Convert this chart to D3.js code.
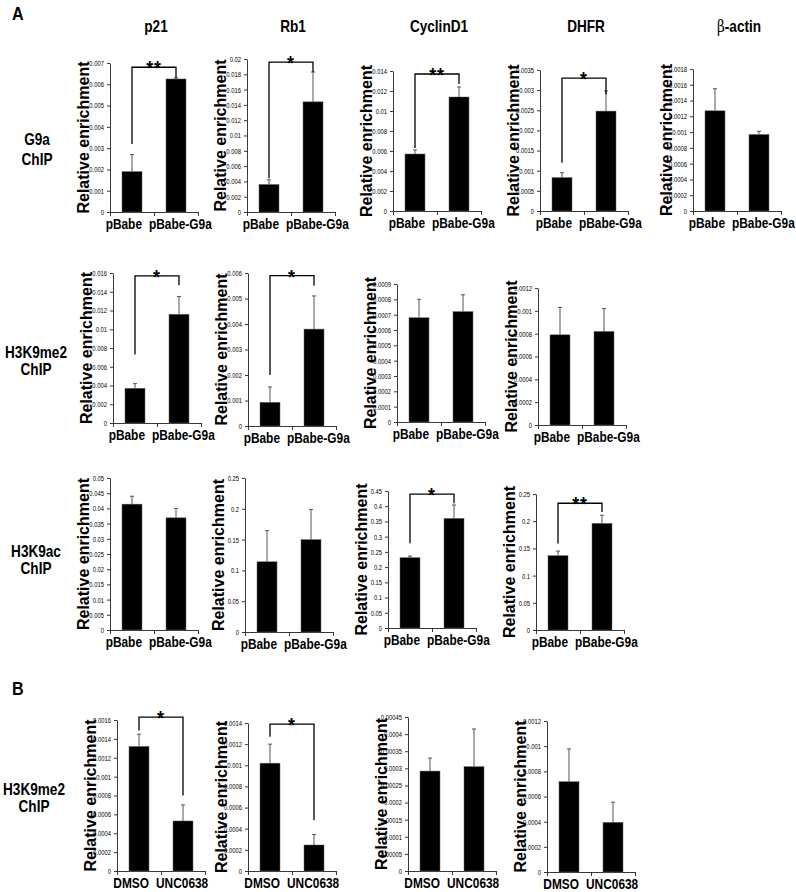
<!DOCTYPE html>
<html><head><meta charset="utf-8">
<script src="https://cdn.jsdelivr.net/npm/d3@7"></script>
<style>body{margin:0;background:#fff} svg{display:block} text{font-family:"Liberation Sans",Arial,sans-serif;}</style>
</head><body><svg id="c" width="796" height="892"></svg>
<script>
// ---------------- DATA ----------------
const genes = ["p21", "Rb1", "CyclinD1", "DHFR", "β-actin"];
const groupsA = ["pBabe", "pBabe-G9a"];
const groupsB = ["DMSO", "UNC0638"];
const rowTitles = [["G9a", "ChIP"], ["H3K9me2", "ChIP"], ["H3K9ac", "ChIP"], ["H3K9me2", "ChIP"]];

// A, row 1: G9a ChIP
const g9aMeans  = [[0.0019, 0.00625], [0.0036, 0.0144], [0.0057, 0.0114], [0.00083, 0.00248], [0.00127, 0.00097]];
const g9aErrors = [[0.0008, 0.00005], [0.0006, 0.0039], [0.0004, 0.0010], [0.00012, 0.0005], [0.00028, 0.00004]];
const g9aAxisMax  = [0.007, 0.02, 0.014, 0.0035, 0.0018];
const g9aAxisStep = [0.001, 0.002, 0.002, 0.0005, 0.0002];
const g9aSig = [
  {label: "**", from: 0.0032, level: 0.0068, to: 0.0063},
  {label: "*",  from: 0.0044, level: 0.0196, to: 0.0183},
  {label: "**", from: 0.0063, level: 0.0137, to: 0.0127},
  {label: "*",  from: 0.0012, level: 0.0033, to: 0.0029},
  null];

// A, row 2: H3K9me2 ChIP
const me2Means  = [[0.0037, 0.0116], [0.00093, 0.0038], [0.00068, 0.00072], [0.00079, 0.00082]];
const me2Errors = [[0.0005, 0.0019], [0.0006, 0.0013], [0.00012, 0.00011], [0.00024, 0.0002]];
const me2AxisMax  = [0.016, 0.006, 0.0009, 0.0012];
const me2AxisStep = [0.002, 0.001, 0.0001, 0.0002];
const me2Sig = [
  {label: "*", from: 0.0073, level: 0.0157, to: 0.0147},
  {label: "*", from: 0.0020, level: 0.0059, to: 0.0055},
  null, null];

// A, row 3: H3K9ac ChIP
const acMeans  = [[0.0414, 0.0369], [0.114, 0.150], [0.231, 0.360], [0.1366, 0.196]];
const acErrors = [[0.0026, 0.0031], [0.0505, 0.049], [0.005, 0.044], [0.0084, 0.015]];
const acAxisMax  = [0.05, 0.25, 0.45, 0.25];
const acAxisStep = [0.005, 0.05, 0.05, 0.05];
const acSig = [null, null,
  {label: "*",  from: 0.278, level: 0.44, to: 0.41},
  {label: "**", from: 0.159, level: 0.233, to: 0.217}];

// B: H3K9me2 ChIP, DMSO vs UNC0638
const uncMeans  = [[0.00132, 0.00053], [0.00102, 0.000246], [0.000292, 0.000305], [0.000718, 0.000395]];
const uncErrors = [[0.00013, 0.00017], [0.00018, 0.0001], [0.000038, 0.00011], [0.00026, 0.00016]];
const uncAxisMax  = [0.0016, 0.0014, 0.00045, 0.0012];
const uncAxisStep = [0.0002, 0.0002, 0.00005, 0.0002];
const uncSig = [
  {label: "*", from: 0.00149, level: 0.00163, to: 0.0008},
  {label: "*", from: 0.00127, level: 0.00139, to: 0.00048},
  null, null];

// ---------------- LAYOUT ----------------
const layout = [
  {axisX: [110, 247, 393, 540, 693], top: [63, 59, 71, 70, 69], zero: [212, 212, 211, 211, 211], title: [37, 145, 165]},
  {axisX: [113, 248, 397, 538], top: [273, 273, 284, 288], zero: [423, 426, 422, 425], title: [36, 358, 375]},
  {axisX: [110, 245, 388, 536], top: [478, 478, 491, 494], zero: [630, 632, 628, 630], title: [36, 557, 574]},
  {axisX: [117, 248, 408, 547], top: [720, 723, 717, 721], zero: [871, 871, 871, 872], title: [34, 795, 812]}
];
const PW = 88, BAR_W = 20, SX = 0.85;

const svg = d3.select("#c");

function hText(g, x, y, str, size, anchor, weight) {
  return g.append("text")
    .attr("transform", `translate(${x},${y}) scale(${SX},1)`)
    .attr("text-anchor", anchor || "middle")
    .attr("font-size", size)
    .attr("font-weight", weight || "bold")
    .attr("fill", "#000")
    .text(str);
}

const fmt = v => v === 0 ? "0" : String(+v.toFixed(8));

function drawPanel(opts) {
  const {x0, top, zero, cats, means, errs, max, step, sig} = opts;
  const g = svg.append("g");
  const y = d3.scaleLinear().domain([0, max]).range([zero, top]);
  const xb = d3.scaleBand().domain(cats).range([x0, x0 + PW]).padding(0);
  const cx = c => xb(c) + xb.bandwidth() / 2;
  const ticks = d3.range(0, Math.round(max / step) + 1).map(i => +(i * step).toFixed(8));

  // y axis
  const ya = g.append("g").attr("transform", `translate(${x0},0)`)
    .call(d3.axisLeft(y).tickValues(ticks).tickSize(3).tickSizeOuter(0).tickFormat(fmt));
  ya.selectAll("path,line").attr("stroke", "#222").attr("stroke-width", 0.9);
  ya.selectAll("text").attr("font-size", 7.5).attr("fill", "#000")
    .attr("font-family", "Liberation Sans, Arial, sans-serif")
    .each(function () {
      const xx = +this.getAttribute("x");
      d3.select(this).attr("x", xx / 0.78).attr("transform", "scale(0.78,1)");
    });

  // x axis (category boundaries ticks)
  const xl = d3.scaleLinear().domain([0, cats.length]).range([x0, x0 + PW]);
  const xa = g.append("g").attr("transform", `translate(0,${zero})`)
    .call(d3.axisBottom(xl).tickValues(d3.range(0, cats.length + 1)).tickSize(4).tickSizeOuter(0).tickFormat(""));
  xa.selectAll("path,line").attr("stroke", "#222").attr("stroke-width", 0.9);

  // bars
  g.selectAll("rect.bar").data(cats).join("rect")
    .attr("x", c => cx(c) - BAR_W / 2)
    .attr("y", (c, i) => y(means[i]))
    .attr("width", BAR_W)
    .attr("height", (c, i) => zero - y(means[i]))
    .attr("fill", "#000").attr("stroke", "#666").attr("stroke-width", 0.5);

  // error bars
  const eb = g.selectAll("g.err").data(cats).join("g").attr("stroke", "#555").attr("stroke-width", 1);
  eb.append("line").attr("x1", c => cx(c)).attr("x2", c => cx(c))
    .attr("y1", (c, i) => y(means[i])).attr("y2", (c, i) => y(means[i] + errs[i]));
  eb.append("line").attr("x1", c => cx(c) - 2).attr("x2", c => cx(c) + 2)
    .attr("y1", (c, i) => y(means[i] + errs[i])).attr("y2", (c, i) => y(means[i] + errs[i]));

  // significance bracket
  if (sig) {
    const a = cx(cats[0]), b = cx(cats[1]);
    g.append("path")
      .attr("d", `M${a},${y(sig.from)}V${y(sig.level)}H${b}V${y(sig.to)}`)
      .attr("fill", "none").attr("stroke", "#000").attr("stroke-width", 1.3);
    hText(g, (a + b) / 2, y(sig.level) + 8, sig.label, 21, "middle").attr("letter-spacing", 1);
  }

  // category labels
  const mid = x0 + PW / 2;
  hText(g, mid - 12, zero + 17, cats[0], 14, "end");
  hText(g, mid - 5, zero + 17, cats[1], 14, "start");

  // y axis title
  g.append("text")
    .attr("transform", `translate(${x0 - 21},${(top + zero) / 2}) rotate(-90)`)
    .attr("text-anchor", "middle").attr("font-size", 16).attr("font-weight", "bold").attr("fill", "#000")
    .text("Relative enrichment");
}

const rowsData = [
  {cats: groupsA, means: g9aMeans, errs: g9aErrors, max: g9aAxisMax, step: g9aAxisStep, sig: g9aSig},
  {cats: groupsA, means: me2Means, errs: me2Errors, max: me2AxisMax, step: me2AxisStep, sig: me2Sig},
  {cats: groupsA, means: acMeans, errs: acErrors, max: acAxisMax, step: acAxisStep, sig: acSig},
  {cats: groupsB, means: uncMeans, errs: uncErrors, max: uncAxisMax, step: uncAxisStep, sig: uncSig}
];

rowsData.forEach((rd, r) => {
  const L = layout[r];
  rd.means.forEach((m, k) => {
    drawPanel({x0: L.axisX[k], top: L.top[k], zero: L.zero[k], cats: rd.cats,
      means: m, errs: rd.errs[k], max: rd.max[k], step: rd.step[k], sig: rd.sig[k]});
  });
  const [tx, ty1, ty2] = L.title;
  hText(svg, tx, ty1, rowTitles[r][0], 16, "middle");
  hText(svg, tx, ty2, rowTitles[r][1], 16, "middle");
});

// gene titles
genes.forEach((gname, k) => {
  const x = layout[0].axisX[k] + 46;
  if (gname.startsWith("β")) {
    const t = svg.append("text").attr("transform", `translate(${x},32) scale(${SX},1)`)
      .attr("text-anchor", "middle").attr("font-size", 16).attr("font-weight", "bold").attr("fill", "#000");
    t.append("tspan").attr("font-family", "DejaVu Serif, Liberation Serif, serif").attr("font-weight", "normal")
      .attr("fill", "#000").text("β");
    t.append("tspan").attr("fill", "#000").text(gname.slice(1));
  } else {
    hText(svg, x, 32, gname, 16, "middle");
  }
});

// panel letters
hText(svg, 12, 20, "A", 19, "start");
hText(svg, 12, 695, "B", 19, "start");
</script>
</body></html>
